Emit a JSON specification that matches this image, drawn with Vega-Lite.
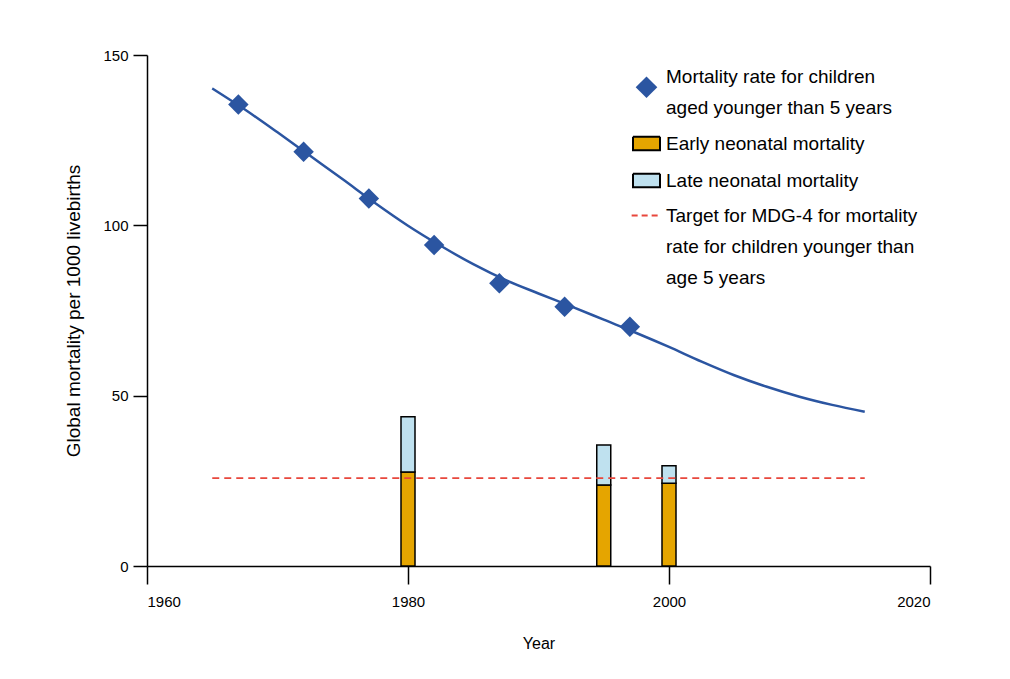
{
  "$schema": "https://vega.github.io/schema/vega-lite/v6.json",
  "width": 783,
  "height": 511,
  "autosize": "none",
  "padding": {"left": 147, "top": 55, "right": 80, "bottom": 113},
  "background": "white",
  "config": {
    "view": {"stroke": null},
    "font": "Liberation Sans",
    "style": {"guide-label": {"lineHeight": 31}},
    "axis": {
      "grid": false,
      "domainColor": "#000000",
      "domainWidth": 1.5,
      "tickColor": "#000000",
      "tickWidth": 1.5,
      "labelColor": "#000000",
      "titleColor": "#000000",
      "labelFont": "Liberation Sans",
      "titleFont": "Liberation Sans",
      "labelFontSize": 15,
      "titleFontSize": 16,
      "titleFontWeight": "normal"
    }
  },
  "datasets": {
    "curve": [
      {"year": 1965, "rate": 140.2},
      {"year": 1967.5, "rate": 134.0},
      {"year": 1970, "rate": 127.3},
      {"year": 1972.5, "rate": 120.4},
      {"year": 1975, "rate": 113.5},
      {"year": 1977.5, "rate": 106.5},
      {"year": 1980, "rate": 99.9},
      {"year": 1982.5, "rate": 94.0},
      {"year": 1985, "rate": 88.6},
      {"year": 1987.5, "rate": 83.9},
      {"year": 1990, "rate": 80.0},
      {"year": 1992.5, "rate": 76.2},
      {"year": 1995, "rate": 72.3},
      {"year": 1997.5, "rate": 68.4},
      {"year": 2000, "rate": 64.3},
      {"year": 2002.5, "rate": 60.0},
      {"year": 2005, "rate": 56.0},
      {"year": 2007.5, "rate": 52.6},
      {"year": 2010, "rate": 49.7},
      {"year": 2012.5, "rate": 47.3},
      {"year": 2015, "rate": 45.3}
    ],
    "points": [
      {"year": 1967, "rate": 135.5},
      {"year": 1972, "rate": 121.6},
      {"year": 1977, "rate": 107.9},
      {"year": 1982, "rate": 94.2},
      {"year": 1987, "rate": 83.0},
      {"year": 1992, "rate": 76.1},
      {"year": 1997, "rate": 70.2}
    ],
    "bars": [
      {"year": 1980, "series": "early", "rate": 27.6},
      {"year": 1980, "series": "late", "rate": 16.2},
      {"year": 1995, "series": "early", "rate": 23.8},
      {"year": 1995, "series": "late", "rate": 11.7},
      {"year": 2000, "series": "early", "rate": 24.3},
      {"year": 2000, "series": "late", "rate": 5.1}
    ],
    "target": [
      {"start": 1965, "end": 2015, "rate": 25.8}
    ]
  },
  "layer": [
    {
      "data": {"name": "bars"},
      "mark": {"type": "bar", "size": 14, "stroke": "#000000", "strokeWidth": 1.5},
      "encoding": {
        "x": {
          "field": "year", "type": "quantitative",
          "scale": {"domain": [1960, 2020], "nice": false, "zero": false, "padding": 0},
          "axis": {"values": [1960, 1980, 2000, 2020], "format": "d", "tickSize": 18, "labelPadding": 10, "title": "Year", "titlePadding": 26}
        },
        "y": {
          "field": "rate", "type": "quantitative", "stack": "zero",
          "scale": {"domain": [0, 150], "nice": false, "padding": 0},
          "axis": {"values": [0, 50, 100, 150], "tickSize": 14, "labelPadding": 5, "title": "Global mortality per 1000 livebirths", "titlePadding": 19, "titleFontSize": 19}
        },
        "order": {"field": "series", "sort": "ascending"},
        "color": {
          "field": "series", "type": "nominal",
          "scale": {"domain": ["u5", "early", "late", "target"], "range": ["#2B55A1", "#E5A500", "#BFE1EF", "#E8473C"]},
          "legend": {
            "title": null,
            "orient": "top-right",
            "offset": 12,
            "padding": 0,
            "labelFont": "Liberation Sans",
            "labelFontSize": 19,
            "labelColor": "#000000",
            "labelLimit": 0,
            "labelOffset": 10,
            "symbolSize": 729,
            "rowPadding": 14,
            "symbolOpacity": 1,
            "symbolType": {"expr": "datum.value === 'u5' ? 'M0,0L0.8,0.8L0,1.6L-0.8,0.8Z' : datum.value === 'target' ? 'M-1.1,0H1.1' : 'M-1,-0.5H1V0.5H-1Z'"},
            "symbolFillColor": {"expr": "datum.value === 'target' ? 'transparent' : scale('color', datum.value)"},
            "symbolStrokeColor": {"expr": "datum.value === 'u5' ? scale('color', datum.value) : datum.value === 'target' ? '#E8473C' : '#000000'"},
            "symbolStrokeWidth": {"expr": "datum.value === 'target' ? 1.8 : datum.value === 'u5' ? 0 : 2"},
            "symbolDash": {"expr": "datum.value === 'target' ? [6, 4] : [1, 0]"},
            "labelExpr": "datum.value === 'u5' ? ['Mortality rate for children', 'aged younger than 5 years'] : datum.value === 'early' ? 'Early neonatal mortality' : datum.value === 'late' ? 'Late neonatal mortality' : ['Target for MDG-4 for mortality', 'rate for children younger than', 'age 5 years']"
          }
        }
      }
    },
    {
      "data": {"name": "target"},
      "mark": {"type": "rule", "strokeWidth": 1.8, "strokeDash": [7, 5], "color": "#E8473C"},
      "encoding": {
        "x": {"field": "start", "type": "quantitative"},
        "x2": {"field": "end"},
        "y": {"field": "rate", "type": "quantitative"}
      }
    },
    {
      "data": {"name": "curve"},
      "mark": {"type": "line", "interpolate": "monotone", "strokeWidth": 2.5, "color": "#2B55A1"},
      "encoding": {
        "x": {"field": "year", "type": "quantitative"},
        "y": {"field": "rate", "type": "quantitative"}
      }
    },
    {
      "data": {"name": "points"},
      "mark": {"type": "point", "shape": "diamond", "filled": true, "size": 420, "opacity": 1, "color": "#2B55A1"},
      "encoding": {
        "x": {"field": "year", "type": "quantitative"},
        "y": {"field": "rate", "type": "quantitative"}
      }
    }
  ]
}
